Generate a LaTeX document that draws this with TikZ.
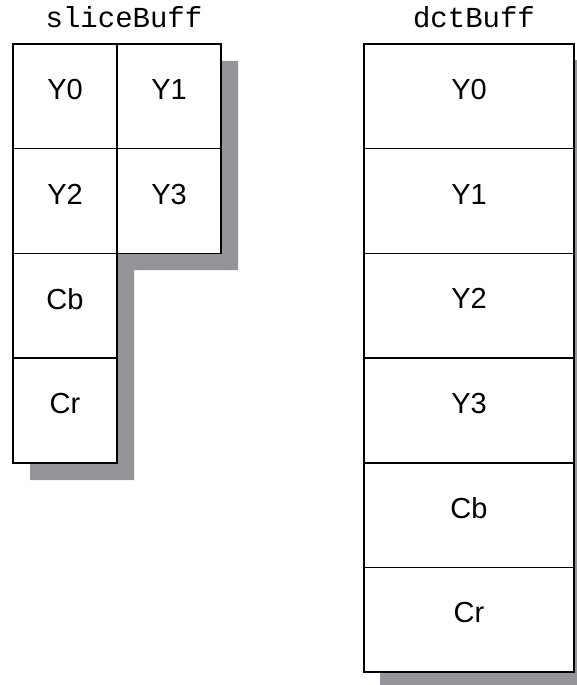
\documentclass[tikz,border=0pt]{standalone}
\usepackage{fontspec}
\setmainfont{Liberation Sans}
\setmonofont{Liberation Mono}
\definecolor{shadowgray}{RGB}{147,149,152}
\tikzset{
  cell/.style={draw, fill=white, line width=1.5pt, inner sep=0pt,
    minimum width=104pt, minimum height=104.7pt, text depth=14pt,
    font=\fontsize{29}{29}\selectfont},
  wide/.style={cell, minimum width=210pt},
  bufname/.style={anchor=base, font=\ttfamily\fontsize{29}{29}\selectfont}
}
\begin{document}
\begin{tikzpicture}[x=1pt, y=-1pt]
\useasboundingbox (0,0) rectangle (577,685);
% drop shadows
\fill[shadowgray] (30,61)--(238,61)--(238,270)--(134,270)--(134,480)--(30,480)--cycle;
\fill[shadowgray] (380,60) rectangle (577,685);

% sliceBuff
\node[bufname] (slicename) at (124,28) {sliceBuff};
\node[cell] (sy0) at (65,96.35) {Y0};
\node[cell] (sy1) at (169,96.35) {Y1};
\node[cell] (sy2) at (65,201.05) {Y2};
\node[cell] (sy3) at (169,201.05) {Y3};
\node[cell] (scb) at (65,305.75) {Cb};
\node[cell] (scr) at (65,410.45) {Cr};

% dctBuff
\node[bufname] (dctname) at (474,28) {dctBuff};
\foreach \lbl [count=\i] in {Y0,Y1,Y2,Y3,Cb,Cr}
  \node[wide] (d\i) at (469,-8.35+104.7*\i) {\lbl};
\end{tikzpicture}
\end{document}
